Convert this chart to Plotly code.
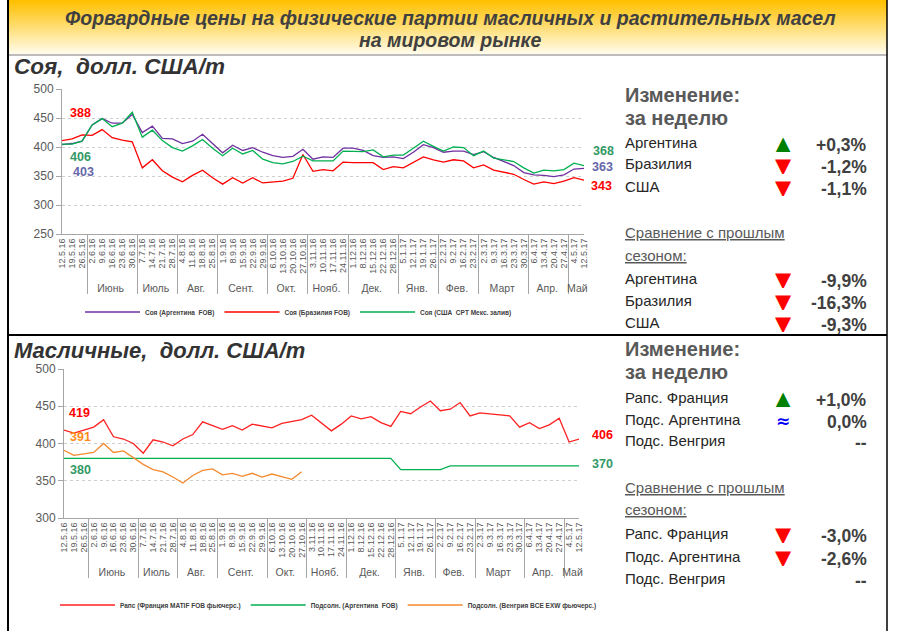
import plotly.graph_objects as go

W, H = 899, 631

# ---------------- data ----------------
dates = ["12.5.16", "19.5.16", "26.5.16", "2.6.16", "9.6.16", "16.6.16", "23.6.16", "30.6.16",
         "7.7.16", "14.7.16", "21.7.16", "28.7.16", "4.8.16", "11.8.16", "18.8.16", "25.8.16",
         "1.9.16", "8.9.16", "15.9.16", "22.9.16", "29.9.16", "6.10.16", "13.10.16", "20.10.16",
         "27.10.16", "3.11.16", "10.11.16", "17.11.16", "24.11.16", "1.12.16", "8.12.16",
         "15.12.16", "22.12.16", "28.12.16", "5.1.17", "12.1.17", "19.1.17", "26.1.17",
         "2.2.17", "9.2.17", "16.2.17", "23.2.17", "2.3.17", "9.3.17", "16.3.17", "23.3.17",
         "30.3.17", "6.4.17", "13.4.17", "20.4.17", "27.4.17", "4.5.17", "12.5.17"]
month_names = [" ", "Июнь", "Июль", "Авг.", "Сент.", "Окт.", "Нояб.", "Дек.", "Янв.", "Фев.",
               "Март", "Апр.", "Май"]
month_counts = [3, 5, 4, 4, 5, 4, 4, 5, 4, 4, 5, 4, 2]

soy_arg = [404, 406, 410, 438, 449, 441, 441, 456, 425, 436, 415, 414, 406, 410, 422, 406,
           390, 403, 394, 399, 391, 385, 382, 384, 396, 379, 383, 382, 398, 398, 394, 385,
           382, 383, 380, 391, 404, 399, 391, 393, 393, 387, 392, 382, 375, 368, 356, 352,
           351, 349, 352, 362, 363]
soy_bra = [411, 414, 421, 420, 430, 416, 412, 409, 364, 378, 359, 348, 340, 351, 360, 347,
           336, 347, 338, 347, 338, 340, 341, 346, 387, 358, 361, 359, 374, 373, 373, 373,
           361, 366, 364, 374, 383, 378, 374, 378, 376, 364, 369, 360, 357, 353, 344, 336,
           340, 337, 341, 347, 343]
soy_usa = [405, 405, 410, 438, 449, 435, 441, 460, 417, 429, 411, 399, 393, 402, 413, 398,
           385, 398, 388, 394, 379, 373, 371, 375, 384, 376, 376, 376, 393, 392, 392, 395,
           383, 386, 386, 398, 410, 401, 393, 400, 399, 385, 393, 381, 378, 375, 364, 355,
           360, 359, 361, 372, 368]

rape_fr = [418, 414, 418, 422, 432, 409, 406, 400, 387, 405, 402, 397, 406, 412, 429, 424,
           419, 424, 418, 426, 423, 421, 427, 429, 432, 438, 428, 417, 426, 437, 433, 436,
           428, 423, 443, 440, 449, 457, 444, 446, 455, 437, 441, 440, 439, 437, 422, 428,
           420, 425, 434, 402, 406]
sun_arg = [380, 380, 380, 380, 380, 380, 380, 380, 380, 380, 380, 380, 380, 380, 380, 380,
           380, 380, 380, 380, 380, 380, 380, 380, 380, 380, 380, 380, 380, 380, 380, 380,
           380, 380, 365, 365, 365, 365, 365, 370, 370, 370, 370, 370, 370, 370, 370, 370,
           370, 370, 370, 370, 370]
sun_hu = [391, 384, 386, 388, 400, 388, 390, 381, 372, 365, 362, 355, 347, 357, 364, 366,
          358, 360, 356, 360, 355, 359, 355, 352, 362, None, None, None, None, None, None,
          None, None, None, None, None, None, None, None, None, None, None, None, None, None,
          None, None, None, None, None, None, None, None]

soy_names = ["Аргентина", "Бразилия", "США"]
soy_week_chg = ["+0,3%", "-1,2%", "-1,1%"]
soy_week_dir = ["up", "down", "down"]
soy_season_chg = ["-9,9%", "-16,3%", "-9,3%"]
soy_season_dir = ["down", "down", "down"]

oil_names = ["Рапс. Франция", "Подс. Аргентина", "Подс. Венгрия"]
oil_week_chg = ["+1,0%", "0,0%", "--"]
oil_week_dir = ["up", "flat", None]
oil_season_chg = ["-3,0%", "-2,6%", "--"]
oil_season_dir = ["down", "down", None]

# ---------------- helpers ----------------
def px(x):
    return x / W


def py(y):
    return 1 - y / H


FONT = "Liberation Sans, Arial, sans-serif"
outer = []
for name, n in zip(month_names, month_counts):
    lab = name if name.strip() == "" else '<span style="font-size:10.5px">%s</span>' % name
    outer += [lab] * n
xcat = [outer, dates]

fig = go.Figure()

# top chart
for name, vals, col in [("Соя (Аргентина  FOB)", soy_arg, "#7030A0"),
                        ("Соя (Бразилия FOB)", soy_bra, "#FF0000"),
                        ("Соя (США  CPT Мекс. залив)", soy_usa, "#00B050")]:
    fig.add_trace(go.Scatter(x=xcat, y=vals, mode="lines", name=name,
                             line=dict(color=col, width=1.3), xaxis="x", yaxis="y",
                             legend="legend"))

# bottom chart
for name, vals, col in [("Рапс (Франция MATIF FOB фьючерс.)", rape_fr, "#FF2020"),
                        ("Подсолн. (Аргентина  FOB)", sun_arg, "#00B050"),
                        ("Подсолн. (Венгрия BCE EXW фьючерс.)", sun_hu, "#F58A2E")]:
    fig.add_trace(go.Scatter(x=xcat, y=vals, mode="lines", name=name,
                             line=dict(color=col, width=1.3), xaxis="x2", yaxis="y2",
                             legend="legend2", connectgaps=False))

xaxis_common = dict(type="multicategory", tickangle=-90, tickmode="linear", tick0=0, dtick=1,
                    tickfont=dict(family=FONT, size=9, color="#595959"),
                    showdividers=True, dividercolor="#a6a6a6", dividerwidth=1,
                    showline=True, linecolor="#a6a6a6", linewidth=1, ticks="",
                    showgrid=False, zeroline=False, automargin=False)
yaxis_common = dict(dtick=50, showgrid=True, gridcolor="#cfcfcf", griddash="dot",
                    gridwidth=1, showline=True, linecolor="#a6a6a6", ticks="outside",
                    ticklen=5, tickcolor="#a6a6a6", automargin=False,
                    tickfont=dict(family=FONT, size=12, color="#595959"), zeroline=False)

shapes = []
# title gradient
n = 27
c0 = (255, 192, 0)
c1 = (255, 251, 232)
for i in range(n):
    t = i / (n - 1)
    c = tuple(int(round(c0[k] + (c1[k] - c0[k]) * t)) for k in range(3))
    shapes.append(dict(type="rect", xref="paper", yref="paper", x0=px(8), x1=px(887),
                       y0=py(i * 2 + 2), y1=py(i * 2), fillcolor="rgb(%d,%d,%d)" % c,
                       line=dict(width=0), layer="below"))
shapes += [
    dict(type="line", xref="paper", yref="paper", x0=px(8), x1=px(887), y0=py(55), y1=py(55),
         line=dict(color="#a6a6a6", width=1.5)),
    dict(type="line", xref="paper", yref="paper", x0=px(8), x1=px(8), y0=py(0), y1=py(631),
         line=dict(color="#000000", width=2)),
    dict(type="line", xref="paper", yref="paper", x0=px(887), x1=px(887), y0=py(0), y1=py(631),
         line=dict(color="#000000", width=1.5)),
    dict(type="line", xref="paper", yref="paper", x0=px(8), x1=px(887), y0=py(335), y1=py(335),
         line=dict(color="#000000", width=2)),
]

ann = []


def text(x, y, s, size, color, bold=False, italic=False, anchor="left", family=FONT,
         height=None):
    a = dict(xref="paper", yref="paper", x=px(x), y=py(y), text=s, showarrow=False,
             xanchor=anchor, yanchor="middle",
             font=dict(family=family, size=size, color=color,
                       weight="bold" if bold else "normal",
                       style="italic" if italic else "normal"))
    if height is not None:
        a["height"] = height
    ann.append(a)


# title
text(450, 18, "Форвардные цены на физические партии масличных и растительных масел", 19.5,
     "#404040", bold=True, italic=True, anchor="center")
text(450, 40, "на мировом рынке", 19.5, "#404040", bold=True, italic=True, anchor="center")
text(12, 67, "Соя,  долл. США/т", 22.5, "#333333", bold=True, italic=True)
text(12, 350, "Масличные,  долл. США/т", 22, "#333333", bold=True, italic=True)

# value labels on charts
text(68, 113, "388", 12.5, "#FF0000", bold=True)
text(68, 157, "406", 12.5, "#339966", bold=True)
text(71, 172, "403", 12.5, "#6666AA", bold=True)
text(591, 151, "368", 12.5, "#339966", bold=True)
text(590, 167, "363", 12.5, "#6666AA", bold=True)
text(589, 186, "343", 12.5, "#FF0000", bold=True)
text(67, 413, "419", 12.5, "#FF0000", bold=True)
text(68, 437, "391", 12.5, "#FF8C1A", bold=True)
text(68, 470, "380", 12.5, "#339966", bold=True)
text(590, 435, "406", 12.5, "#FF0000", bold=True)
text(590, 464, "370", 12.5, "#339966", bold=True)

SYM = {"up": ("▲", "#008000"), "down": ("▼", "#FF0000"), "flat": ("≈", "#0000FF")}


def panel(y_head, names, wk_chg, wk_dir, y_wk, ss_chg, ss_dir, y_ss):
    text(623, y_head, "Изменение:", 20, "#595959", bold=True)
    text(623, y_head + 23, "за неделю", 20, "#595959", bold=True)
    for nm, ch, d, yy in zip(names, wk_chg, wk_dir, y_wk):
        text(623, yy, nm, 15, "#262626")
        if d is not None:
            s, c = SYM[d]
            text(783, yy + 2, s, 21 if d != "flat" else 17, c, bold=True, anchor="center",
                 family="DejaVu Sans", height=16)
        text(869, yy + 3, ch, 17.5, "#404040", bold=True, anchor="right")
    text(623, y_head + 138, "<u>Сравнение с прошлым</u>", 15, "#595959")
    text(623, y_head + 160, "<u>сезоном:</u>", 15, "#595959")
    for nm, ch, d, yy in zip(names, ss_chg, ss_dir, y_ss):
        text(623, yy, nm, 15, "#262626")
        if d is not None:
            s, c = SYM[d]
            text(783, yy + 2, s, 21, c, bold=True, anchor="center", family="DejaVu Sans",
                 height=16)
        text(869, yy + 3, ch, 17.5, "#404040", bold=True, anchor="right")


panel(95, soy_names, soy_week_chg, soy_week_dir, [142, 164, 186],
      soy_season_chg, soy_season_dir, [278, 300, 322])
panel(349, oil_names, oil_week_chg, oil_week_dir, [397, 419, 440],
      oil_season_chg, oil_season_dir, [533, 556, 578])

legend_common = dict(orientation="h", xanchor="left", yanchor="middle", itemwidth=55,
                     font=dict(family=FONT, size=6.5, color="#404040", weight="bold"),
                     bgcolor="rgba(0,0,0,0)", itemclick=False)

fig.update_layout(
    width=W, height=H, margin=dict(l=0, r=0, t=0, b=0, pad=0, autoexpand=False),
    paper_bgcolor="white", plot_bgcolor="white",
    xaxis=dict(domain=[px(62), px(584)], anchor="y", **xaxis_common),
    yaxis=dict(domain=[py(234), py(89)], range=[250, 500], anchor="x", **yaxis_common),
    xaxis2=dict(domain=[px(64), px(579)], anchor="y2", **xaxis_common),
    yaxis2=dict(domain=[py(518), py(369)], range=[300, 500], anchor="x2", **yaxis_common),
    legend=dict(x=px(80), y=py(312), **legend_common),
    legend2=dict(x=px(55), y=py(605), **legend_common),
    shapes=shapes, annotations=ann, showlegend=True,
)

post = ("document.documentElement.style.margin='0px';document.body.style.margin='0px';"
        "document.body.style.padding='0px';document.documentElement.style.overflow='hidden';"
        "var d=document.getElementById('{plot_id}');d.style.position='absolute';"
        "d.style.left='0px';d.style.top='0px';")
fig.write_html("out.html", post_script=post, config={"displayModeBar": False})
